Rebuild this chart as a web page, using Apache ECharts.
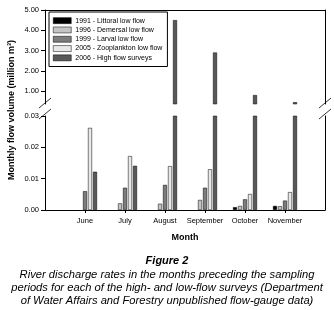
<!DOCTYPE html>
<html>
<head>
<meta charset="utf-8">
<script src="https://cdn.jsdelivr.net/npm/echarts@6/dist/echarts.min.js"></script>
<style>
  html, body { margin: 0; padding: 0; background: #fff; }
  #chart { width: 334px; height: 310px; }
</style>
</head>
<body>
<div id="chart"></div>
<script>
// monthly flow volume, million m3
const months = ['June', 'July', 'August', 'September', 'October', 'November']
const littoral1991 = [null, null, null, null, 0.0009, 0.0013]
const demersal1996 = [null, 0.0021, 0.002, 0.0032, 0.0013, 0.0012]
const larval1999 = [0.006, 0.0071, 0.008, 0.0071, 0.0034, 0.003]
const zoo2005 = [0.0262, 0.0172, 0.014, 0.013, 0.0051, 0.0057]
const high2006 = [0.0122, 0.0141, 4.5, 2.9, 0.8, 0.45]
const upperTicks = [1, 2, 3, 4, 5]

const FONT = '"Liberation Sans", Arial, sans-serif'

const seriesDefs = [
  { name: '1991 - Littoral low flow', data: littoral1991, color: '#000000' },
  { name: '1996 - Demersal low flow', data: demersal1996, color: '#c4c4c4' },
  { name: '1999 - Larval low flow', data: larval1999, color: '#7c7c7c' },
  { name: '2005 - Zooplankton low flow', data: zoo2005, color: '#e8e8e8' },
  { name: '2006 - High flow surveys', data: high2006, color: '#585858' }
]

// empty slot on each side so the months sit where the ticks are
const cats = [''].concat(months, [''])
const pad = arr => [null].concat(arr, [null])

const series = []
;[0, 1].forEach(g => {
  seriesDefs.forEach(s => {
    series.push({
      name: s.name,
      type: 'bar',
      xAxisIndex: g,
      yAxisIndex: g,
      data: pad(s.data),
      barWidth: 4,
      barGap: '25%',
      clip: true,
      itemStyle: { color: s.color, borderColor: '#000', borderWidth: 0.5 },
      emphasis: { disabled: true }
    })
  })
})

const frameAxis = (gridIndex) => ({
  type: 'value',
  gridIndex: gridIndex,
  position: 'right',
  axisLine: { show: true, lineStyle: { color: '#000', width: 1 } },
  axisTick: { show: false },
  axisLabel: { show: false },
  splitLine: { show: false }
})

const breakLine = (x1, y1, x2, y2) => ({
  type: 'line',
  shape: { x1: x1, y1: y1, x2: x2, y2: y2 },
  style: { stroke: '#000', lineWidth: 0.8 },
  z: 100
})

const options = {
  animation: false,
  textStyle: { fontFamily: FONT },
  title: [
    {
      text: 'Figure 2',
      left: 'center',
      top: 255,
      padding: 0,
      textStyle: { fontFamily: FONT, fontSize: 11, fontWeight: 'bold', fontStyle: 'italic', color: '#000' }
    },
    {
      text: 'River discharge rates in the months preceding the sampling\nperiods for each of the high- and low-flow surveys (Department\nof Water Affairs and Forestry unpublished flow-gauge data)',
      left: 'center',
      top: 268,
      padding: 0,
      textStyle: { fontFamily: FONT, fontSize: 11.2, fontWeight: 'normal', fontStyle: 'italic', color: '#000', lineHeight: 13 }
    }
  ],
  legend: {
    orient: 'vertical',
    left: 49,
    top: 12,
    padding: [4, 5, 4, 4],
    itemGap: 0,
    itemWidth: 18,
    itemHeight: 6,
    icon: 'rect',
    borderColor: '#000',
    borderWidth: 1,
    backgroundColor: '#fff',
    data: seriesDefs.map(s => s.name),
    itemStyle: { borderColor: '#000', borderWidth: 0.5 },
    textStyle: { fontFamily: FONT, fontSize: 7, color: '#000', lineHeight: 9.3, padding: [0, 0, 0, -1] }
  },
  grid: [
    { left: 45, right: 9, top: 10, height: 94 },
    { left: 45, right: 9, top: 116, height: 94 }
  ],
  xAxis: [
    {
      type: 'category',
      gridIndex: 0,
      data: cats,
      boundaryGap: false,
      position: 'top',
      axisLine: { onZero: false, lineStyle: { color: '#000', width: 1 } },
      axisTick: { show: false },
      axisLabel: { show: false }
    },
    {
      type: 'category',
      gridIndex: 1,
      data: cats,
      boundaryGap: false,
      name: 'Month',
      nameLocation: 'middle',
      nameGap: 23,
      nameTextStyle: { fontFamily: FONT, fontSize: 9, fontWeight: 'bold', color: '#000' },
      axisLine: { onZero: false, lineStyle: { color: '#000', width: 1 } },
      axisTick: { length: 3, interval: idx => idx > 0 && idx < cats.length - 1, lineStyle: { color: '#000' } },
      axisLabel: { interval: 0, margin: 7, fontSize: 7.5, color: '#000', fontFamily: FONT }
    }
  ],
  yAxis: [
    {
      type: 'value',
      gridIndex: 0,
      min: 0.36,
      max: 5,
      axisLine: { show: true, lineStyle: { color: '#000', width: 1 } },
      axisTick: { show: true, length: 4, customValues: upperTicks, lineStyle: { color: '#000' } },
      axisLabel: { customValues: upperTicks, margin: 6, fontSize: 7.5, color: '#000', fontFamily: FONT, formatter: v => v.toFixed(2) },
      splitLine: { show: false }
    },
    {
      type: 'value',
      gridIndex: 1,
      min: 0,
      max: 0.03,
      interval: 0.01,
      axisLine: { show: true, lineStyle: { color: '#000', width: 1 } },
      axisTick: { show: true, length: 4, lineStyle: { color: '#000' } },
      axisLabel: { margin: 6, fontSize: 7.5, color: '#000', fontFamily: FONT, formatter: v => v.toFixed(2) },
      splitLine: { show: false }
    },
    frameAxis(0),
    frameAxis(1)
  ],
  graphic: [
    {
      type: 'text',
      x: 12,
      y: 110,
      rotation: Math.PI / 2,
      style: {
        text: 'Monthly flow volume (million m³)',
        font: 'bold 9px ' + FONT,
        fill: '#000',
        align: 'center',
        verticalAlign: 'middle'
      }
    },
    breakLine(39, 108, 51, 98),
    breakLine(39, 119, 51, 109),
    breakLine(319, 108, 331, 98),
    breakLine(319, 119, 331, 109)
  ],
  series: series
}

const chart = echarts.init(document.getElementById('chart'))
chart.setOption(options)
</script>
</body>
</html>
